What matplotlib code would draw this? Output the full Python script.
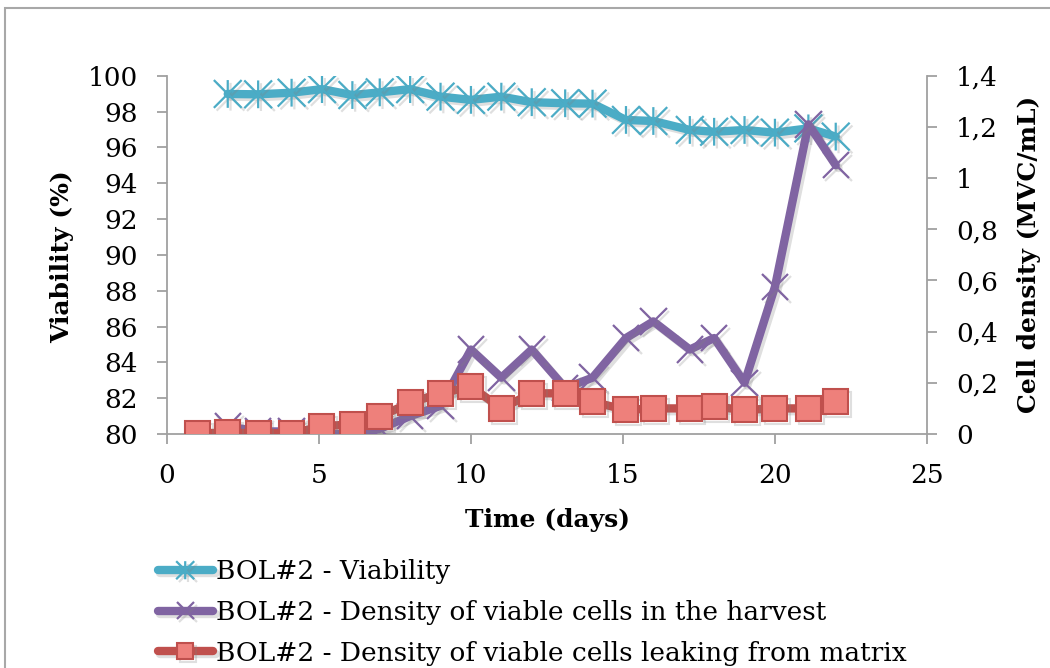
import numpy as np
import matplotlib
matplotlib.use("Agg")
import matplotlib.pyplot as plt
from matplotlib.path import Path
from matplotlib.patches import Rectangle
import matplotlib.patheffects as pe

# data
days_viab = [2, 3, 4.1, 5.1, 6.1, 7, 8, 9, 10, 11, 12, 13.1, 14, 15.1, 16, 17.2, 18, 19, 20, 21.1, 22]
viability = [98.98, 98.96, 99.05, 99.25, 98.92, 99.07, 99.25, 98.83, 98.65, 98.83, 98.52,
             98.46, 98.44, 97.53, 97.47, 96.97, 96.87, 96.97, 96.82, 97.06, 96.6]

days_harv = [2, 3, 4.1, 5.1, 6.1, 7, 8, 9, 10, 11, 12, 13.1, 14, 15.1, 16, 17.2, 18, 19, 20, 21.1, 22]
harvest = [0.03, 0.01, 0.01, 0.0, 0.0, 0.02, 0.07, 0.11, 0.33, 0.22, 0.33,
           0.18, 0.22, 0.375, 0.44, 0.33, 0.375, 0.20, 0.575, 1.21, 1.05]

days_leak = [1, 2, 3, 4.1, 5.1, 6.1, 7, 8, 9, 10, 11, 12, 13.1, 14, 15.1, 16, 17.2, 18, 19, 20, 21.1, 22]
leaking = [0.003, 0.005, 0.003, 0.003, 0.029, 0.039, 0.068, 0.122, 0.159, 0.185, 0.10, 0.159,
           0.159, 0.126, 0.094, 0.10, 0.10, 0.107, 0.094, 0.10, 0.10, 0.126]

x_ticks = [0, 5, 10, 15, 20, 25]
left_ticks = [80, 82, 84, 86, 88, 90, 92, 94, 96, 98, 100]
right_ticks = [0, 0.2, 0.4, 0.6, 0.8, 1.0, 1.2, 1.4]
right_labels = ["0", "0,2", "0,4", "0,6", "0,8", "1", "1,2", "1,4"]

labels = ["BOL#2 - Viability",
          "BOL#2 - Density of viable cells in the harvest",
          "BOL#2 - Density of viable cells leaking from matrix"]

plt.rcParams['font.family'] = ['DejaVu Serif']

cyan = "#4BACC6"
purple = "#8064A2"
red = "#C0504D"
grey = "#A0A0A0"

# excel "star" marker: vertical bar + X
star = Path([(0, -1), (0, 1), (-1, -1), (1, 1), (-1, 1), (1, -1)],
            [Path.MOVETO, Path.LINETO, Path.MOVETO, Path.LINETO, Path.MOVETO, Path.LINETO])

shadow = [pe.SimpleLineShadow(offset=(2, -2), shadow_color="gray", alpha=0.25), pe.Normal()]

fig = plt.figure(figsize=(10.5, 6.68), dpi=100)
ax1 = fig.add_axes([0.159, 0.3503, 0.7238, 0.5364])
ax2 = ax1.twinx()

l1, = ax1.plot(days_viab, viability, color=cyan, lw=6, marker=star, ms=20,
               mec=cyan, mew=1.6, solid_capstyle='round', path_effects=shadow)
l2, = ax2.plot(days_harv, harvest, color=purple, lw=6, marker='x', ms=19,
               mec=purple, mew=1.6, solid_capstyle='round', path_effects=shadow)
l3, = ax2.plot(days_leak, leaking, color=red, lw=6, marker='s', ms=18,
               mfc="#EE807B", mec=red, mew=1.5, solid_capstyle='round', path_effects=shadow)

ax1.set_xlim(0, 25)
ax1.set_ylim(80, 100)
ax2.set_ylim(0, 1.4)
ax1.set_xticks(x_ticks)
ax1.set_yticks(left_ticks)
ax2.set_yticks(right_ticks)
ax2.set_yticklabels(right_labels)

for ax in (ax1, ax2):
    for s in ax.spines.values():
        s.set_color(grey)
        s.set_linewidth(1.3)
    ax.spines['top'].set_visible(False)
    ax.patch.set_visible(False)
ax1.spines['right'].set_visible(False)
ax2.spines['left'].set_visible(False)
ax2.spines['bottom'].set_visible(False)

ax1.tick_params(axis='x', direction='out', length=7, width=1.3, color=grey, labelsize=19, pad=14)
ax1.tick_params(axis='y', direction='out', length=7, width=1.3, color=grey, labelsize=19, pad=14)
ax2.tick_params(axis='y', direction='out', length=7, width=1.3, color=grey, labelsize=19, pad=14)

ax1.set_xlabel("Time (days)", fontsize=18, fontweight='bold')
ax1.set_ylabel("Viability (%)", fontsize=18, fontweight='bold')
ax2.set_ylabel("Cell density (MVC/mL)", fontsize=18, fontweight='bold')
ax1.xaxis.set_label_coords(0.501, -0.207)
ax1.yaxis.set_label_coords(-0.1224, 0.496)
ax2.yaxis.set_label_coords(1.118, 0.5)

fig.legend([l1, l2, l3], labels, loc='upper left', bbox_to_anchor=(0.150, 0.1625),
           frameon=False, fontsize=19, numpoints=1, handlelength=2.1, markerscale=0.65,
           handletextpad=0.1, labelspacing=0.59, borderpad=0, borderaxespad=0)

fig.patches.append(Rectangle((4.5 / 1050, -0.05), 1.1, 1.038, transform=fig.transFigure,
                             fill=False, ec="#A8A8A8", lw=1.5))

fig.savefig("out.png", dpi=100)
